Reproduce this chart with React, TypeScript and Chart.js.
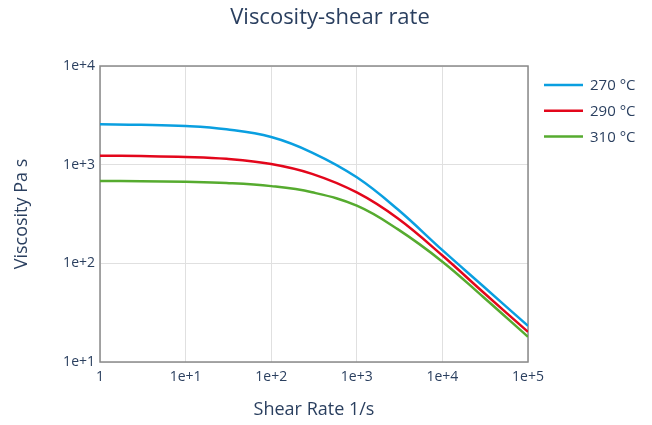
import { useEffect, useRef } from "react";
import { Chart, registerables } from "chart.js";

Chart.register(...registerables);

// ---- data ----
const shearRates = [1, 3, 10, 30, 100, 300, 1000, 3000, 10000, 30000, 100000];
const visc270 = [2564, 2535, 2460, 2280, 1905, 1327, 745, 353, 136, 58.6, 23.2];
const visc290 = [1233, 1223, 1198, 1146, 1016, 807, 523, 286, 120, 50.9, 20.2];
const visc310 = [684, 679, 670, 652, 606, 525, 384, 222, 104, 45.6, 18.0];
const seriesLabels = ["270 °C", "290 °C", "310 °C"];
const seriesColors = ["#0a9fe0", "#e3061b", "#56ab2f"];
const xTickValues = [1, 10, 100, 1000, 10000, 100000];
const xTickLabels = ["1", "1e+1", "1e+2", "1e+3", "1e+4", "1e+5"];
const yTickValues = [10, 100, 1000, 10000];
const yTickLabels = ["1e+1", "1e+2", "1e+3", "1e+4"];
const chartTitle = "Viscosity-shear rate";
const xTitle = "Shear Rate 1/s";
const yTitle = "Viscosity Pa s";

const FONT = "'Open Sans', sans-serif";
const TEXT = "#2a3f5f";

const W = 652;
const H = 425;
const AREA = { left: 100, right: 528, top: 66, bottom: 362 };

const decor = {
  id: "decor",
  beforeDatasetsDraw(chart: any) {
    const { ctx, chartArea: a } = chart;
    ctx.save();
    ctx.strokeStyle = "#8a8a8a";
    ctx.lineWidth = 1.5;
    ctx.strokeRect(a.left, a.top, a.right - a.left, a.bottom - a.top);
    ctx.restore();
  },
  afterDraw(chart: any) {
    const { ctx, chartArea: a } = chart;
    ctx.save();
    ctx.fillStyle = TEXT;
    ctx.textAlign = "center";
    ctx.textBaseline = "middle";
    ctx.font = `22px ${FONT}`;
    ctx.fillText(chartTitle, 330, 18);
    ctx.font = `18px ${FONT}`;
    ctx.fillText(xTitle, (a.left + a.right) / 2, 410);
    ctx.translate(22, (a.top + a.bottom) / 2);
    ctx.rotate(-Math.PI / 2);
    ctx.fillText(yTitle, 0, 0);
    ctx.restore();

    // legend
    ctx.save();
    ctx.font = `15px ${FONT}`;
    ctx.textAlign = "left";
    ctx.textBaseline = "middle";
    seriesLabels.forEach((lab, i) => {
      const y = 85 + i * 25.7;
      ctx.strokeStyle = seriesColors[i];
      ctx.lineWidth = 2.5;
      ctx.beginPath();
      ctx.moveTo(544, y);
      ctx.lineTo(583, y);
      ctx.stroke();
      ctx.fillStyle = TEXT;
      ctx.fillText(lab, 590, y + 1);
    });
    ctx.restore();
  },
};

export default function App() {
  const ref = useRef<HTMLCanvasElement | null>(null);
  useEffect(() => {
    if (!ref.current) return;
    const series = [visc270, visc290, visc310];
    const chart = new Chart(ref.current, {
      type: "line",
      data: {
        datasets: series.map((vals, i) => ({
          label: seriesLabels[i],
          data: shearRates.map((x, j) => ({ x, y: vals[j] })),
          borderColor: seriesColors[i],
          backgroundColor: seriesColors[i],
          borderWidth: 2.5,
          pointRadius: 0,
          tension: 0.4,
          fill: false,
        })),
      },
      options: {
        responsive: false,
        animation: false,
        layout: {
          padding: { left: 0, top: AREA.top, right: W - AREA.right, bottom: 0 },
        },
        plugins: {
          legend: { display: false },
          tooltip: { enabled: false },
          title: { display: false },
        },
        scales: {
          x: {
            type: "logarithmic",
            min: 1,
            max: 100000,
            border: { display: false },
            grid: { color: "#e0e0e0", drawTicks: false, lineWidth: 1 },
            ticks: {
              font: { family: FONT, size: 14 },
              color: TEXT,
              padding: 7,
              maxRotation: 0,
              autoSkip: false,
              callback: (v: any) => {
                const k = xTickValues.indexOf(Number(v));
                return k >= 0 ? xTickLabels[k] : "";
              },
            },
            afterBuildTicks: (s: any) => {
              s.ticks = xTickValues.map((v) => ({ value: v }));
            },
            afterFit: (s: any) => {
              s.height = H - AREA.bottom;
            },
          },
          y: {
            type: "logarithmic",
            min: 10,
            max: 10000,
            border: { display: false },
            grid: { color: "#e0e0e0", drawTicks: false, lineWidth: 1 },
            ticks: {
              font: { family: FONT, size: 14 },
              color: TEXT,
              padding: 5,
              autoSkip: false,
              callback: (v: any) => {
                const k = yTickValues.indexOf(Number(v));
                return k >= 0 ? yTickLabels[k] : "";
              },
            },
            afterBuildTicks: (s: any) => {
              s.ticks = yTickValues.map((v) => ({ value: v }));
            },
            afterFit: (s: any) => {
              s.width = AREA.left;
            },
          },
        },
      },
      plugins: [decor],
    });
    return () => chart.destroy();
  }, []);
  return (
    <div style={{ position: "fixed", left: 0, top: 0, width: W, height: H, background: "#fff" }}>
      <canvas ref={ref} width={W} height={H} style={{ width: W, height: H, display: "block" }} />
    </div>
  );
}
